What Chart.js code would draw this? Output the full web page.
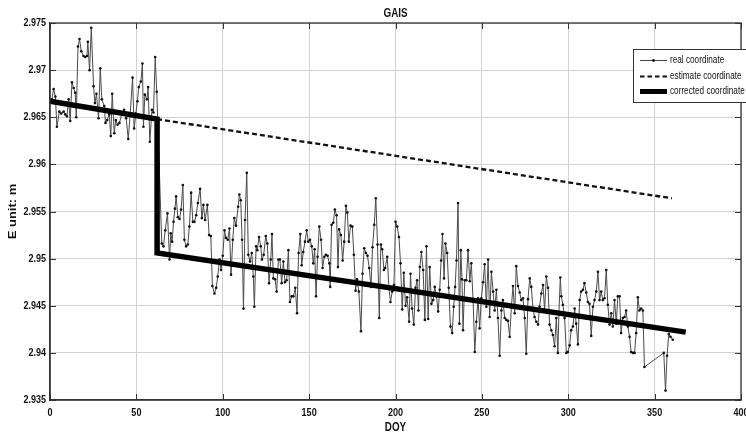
<!DOCTYPE html>
<html>
<head>
<meta charset="utf-8">
<script src="https://cdn.jsdelivr.net/npm/chart.js@4"></script>
<style>
  html, body { margin: 0; padding: 0; background: #fff; }
  #wrap { width: 746px; height: 435px; }
</style>
</head>
<body>
<div id="wrap"><canvas id="c" width="746" height="435"></canvas></div>
<script>
/* GAIS — E component, real / estimate / corrected coordinate */

const chartTitle = 'GAIS';
const xTitle = 'DOY';
const yTitle = 'E unit: m';
const legendLabels = ['real coordinate', 'estimate coordinate', 'corrected coordinate'];

const xTicks = [0, 50, 100, 150, 200, 250, 300, 350, 400];
const yTicks = [2.935, 2.94, 2.945, 2.95, 2.955, 2.96, 2.965, 2.97, 2.975];
const yTickLabels = ['2.935', '2.94', '2.945', '2.95', '2.955', '2.96', '2.965', '2.97', '2.975'];

// real coordinate, before the jump
const seg1Doy = [
  1.1, 2.1, 3.1, 4.0, 5.4, 6.5, 7.9, 8.8, 9.8, 10.8,
  11.7, 12.7, 13.7, 14.6, 15.2, 16.2, 17.1, 18.1, 19.4, 20.4,
  21.4, 21.9, 22.9, 23.9, 25.2, 26.0, 26.9, 28.1, 29.1, 30.0,
  31.4, 32.1, 33.1, 34.3, 35.2, 36.0, 37.2, 38.1, 39.1, 40.2,
  41.6, 42.9, 44.1, 45.3, 46.4, 47.8, 48.7, 49.7, 50.6, 51.4,
  52.6, 53.5, 54.1, 54.9, 56.1, 56.8, 57.8, 59.0, 59.9, 60.9,
  61.8
];
const seg1E = [
  2.9669, 2.9680, 2.9672, 2.9640, 2.9656, 2.9654, 2.9656, 2.9653, 2.9651, 2.9669,
  2.9646, 2.9687, 2.9681, 2.9676, 2.9650, 2.9725, 2.9733, 2.9720, 2.9715, 2.9714,
  2.9715, 2.9730, 2.9700, 2.9745, 2.9683, 2.9665, 2.9675, 2.9649, 2.9702, 2.9669,
  2.9662, 2.9644, 2.9647, 2.9653, 2.9630, 2.9675, 2.9633, 2.9647, 2.9642, 2.9644,
  2.9654, 2.9658, 2.9649, 2.9627, 2.9653, 2.9692, 2.9638, 2.9654, 2.9667, 2.9682,
  2.9688, 2.9707, 2.9640, 2.9674, 2.9669, 2.9682, 2.9624, 2.9658, 2.9655, 2.9714,
  2.9677
];

// real coordinate, after the jump (first part)
const seg2Doy = [
  64.7, 65.7, 66.7, 68.0, 69.2, 69.9, 70.7, 71.5, 72.3, 73.0,
  74.0, 75.0, 75.9, 76.9, 77.8, 78.8, 79.8, 80.7, 81.7, 82.7,
  83.6, 84.6, 85.6, 86.9, 87.9, 88.8, 89.8, 91.1, 92.1, 93.1,
  94.0, 95.2, 96.2, 97.1, 98.1, 99.0, 100.0, 101.0, 101.9, 102.9,
  103.9, 104.8, 105.8, 106.7, 107.7, 108.9, 109.6, 110.4, 111.2, 112.0,
  112.9, 113.9, 114.8, 115.8, 116.8, 117.7, 118.3, 119.3, 120.0, 121.0,
  122.0, 122.7, 123.7, 124.9, 125.8, 126.8, 127.8, 128.5, 129.3, 130.3,
  131.2, 132.2, 133.1, 134.1, 135.1, 136.0, 137.0, 138.0, 138.9, 139.9,
  140.9, 142.0, 143.0, 143.9, 144.9, 145.7, 146.6, 147.6, 148.6, 149.5,
  150.5, 151.5, 152.4, 153.2, 154.0, 154.9, 155.9, 156.9, 157.8, 158.8,
  159.7, 160.7, 161.7, 162.2, 163.0, 164.0, 164.9, 165.9, 166.7, 167.4,
  168.4, 169.4, 170.3, 171.3, 172.1, 173.0, 174.0, 175.0, 175.9, 176.9,
  177.7, 178.8, 180.0, 180.9, 181.9, 182.9, 183.8, 184.8, 185.8, 186.7,
  187.7, 188.6, 189.6, 190.6, 191.5, 192.3, 193.3, 194.0, 195.2, 196.2,
  197.1, 198.1, 199.1, 200.0, 201.0, 202.0, 202.9, 203.9, 204.8, 205.8,
  206.7, 207.9
];
const seg2E = [
  2.9516, 2.9513, 2.9530, 2.9548, 2.9499, 2.9527, 2.9518, 2.9539, 2.9553, 2.9566,
  2.9544, 2.9542, 2.9552, 2.9578, 2.9520, 2.9513, 2.9515, 2.9534, 2.9570, 2.9539,
  2.9539, 2.9546, 2.9559, 2.9574, 2.9543, 2.9557, 2.9541, 2.9557, 2.9525, 2.9524,
  2.9471, 2.9463, 2.9469, 2.9481, 2.9499, 2.9488, 2.9503, 2.9530, 2.9522, 2.9520,
  2.9532, 2.9483, 2.9520, 2.9543, 2.9535, 2.9555, 2.9568, 2.9562, 2.9520, 2.9447,
  2.9541, 2.9591, 2.9504, 2.9497, 2.9506, 2.9481, 2.9449, 2.9513, 2.9509, 2.9523,
  2.9513, 2.9499, 2.9504, 2.9524, 2.9516, 2.9474, 2.9499, 2.9526, 2.9479, 2.9478,
  2.9465, 2.9499, 2.9499, 2.9474, 2.9497, 2.9475, 2.9477, 2.9509, 2.9454, 2.9460,
  2.9460, 2.9469, 2.9442, 2.9506, 2.9526, 2.9493, 2.9507, 2.9518, 2.9530, 2.9518,
  2.9520, 2.9513, 2.9495, 2.9510, 2.9460, 2.9502, 2.9534, 2.9520, 2.9490, 2.9502,
  2.9504, 2.9503, 2.9495, 2.9470, 2.9536, 2.9538, 2.9552, 2.9546, 2.9491, 2.9531,
  2.9525, 2.9498, 2.9518, 2.9556, 2.9549, 2.9518, 2.9535, 2.9534, 2.9504, 2.9466,
  2.9478, 2.9465, 2.9423, 2.9484, 2.9511, 2.9506, 2.9503, 2.9490, 2.9470, 2.9512,
  2.9536, 2.9564, 2.9515, 2.9437, 2.9515, 2.9510, 2.9488, 2.9490, 2.9502, 2.9469,
  2.9454, 2.9465, 2.9472, 2.9539, 2.9534, 2.9523, 2.9495, 2.9446, 2.9485, 2.9450,
  2.9459, 2.9433
];

// real coordinate, second part (gap 344 -> 355 kept as a straight join)
const seg3Doy = [
  208.7, 209.6, 210.6, 211.6, 212.5, 213.3, 214.1, 215.0, 216.0, 217.0,
  217.9, 218.9, 219.8, 220.8, 221.8, 222.7, 223.7, 224.7, 225.6, 226.4,
  227.2, 228.1, 228.9, 229.9, 230.8, 231.8, 232.8, 233.7, 234.5, 235.3,
  236.2, 237.0, 237.8, 238.5, 239.1, 240.1, 241.0, 242.0, 243.0, 243.9,
  244.9, 245.9, 246.8, 247.8, 248.7, 249.7, 250.7, 251.6, 252.6, 253.6,
  254.5, 255.5, 256.5, 257.4, 258.4, 259.3, 260.3, 261.3, 262.2, 263.2,
  264.2, 265.1, 266.1, 267.1, 268.0, 269.0, 269.9, 270.9, 271.9, 272.8,
  273.8, 274.8, 275.7, 276.7, 277.7, 278.6, 279.6, 280.5, 281.5, 282.5,
  283.4, 284.4, 285.4, 286.3, 287.3, 288.3, 289.2, 290.2, 291.1, 292.1,
  293.1, 294.0, 294.6, 295.4, 296.0, 296.9, 297.9, 298.9, 299.8, 300.8,
  301.7, 302.7, 303.7, 304.6, 305.6, 306.6, 307.5, 308.5, 309.4, 310.4,
  311.4, 312.3, 313.3, 314.3, 315.2, 316.2, 317.2, 318.1, 319.1, 320.0,
  321.0, 322.0, 322.9, 323.9, 324.9, 325.8, 326.8, 327.8, 328.7, 329.7,
  330.6, 331.6, 332.6, 333.5, 334.5, 335.5, 336.4, 337.4, 338.4, 339.3,
  340.3, 341.2, 342.2, 343.2, 344.1, 355.3, 356.3, 357.2, 358.2, 359.2,
  360.5
];
const seg3E = [
  2.9484, 2.9447, 2.9430, 2.9469, 2.9477, 2.9445, 2.9491, 2.9507, 2.9488, 2.9435,
  2.9513, 2.9436, 2.9491, 2.9452, 2.9456, 2.9470, 2.9460, 2.9444, 2.9467, 2.9498,
  2.9526, 2.9479, 2.9516, 2.9506, 2.9469, 2.9428, 2.9421, 2.9449, 2.9470, 2.9498,
  2.9559, 2.9431, 2.9509, 2.9478, 2.9424, 2.9477, 2.9477, 2.9509, 2.9476, 2.9495,
  2.9456, 2.9401, 2.9433, 2.9458, 2.9426, 2.9458, 2.9475, 2.9494, 2.9449, 2.9499,
  2.9438, 2.9486, 2.9465, 2.9445, 2.9467, 2.9437, 2.9397, 2.9445, 2.9456, 2.9437,
  2.9435, 2.9434, 2.9417, 2.9449, 2.9471, 2.9442, 2.9492, 2.9471, 2.9464, 2.9456,
  2.9458, 2.9437, 2.9399, 2.9457, 2.9479, 2.9470, 2.9447, 2.9438, 2.9433, 2.9430,
  2.9449, 2.9463, 2.9472, 2.9445, 2.9481, 2.9469, 2.9430, 2.9424, 2.9419, 2.9407,
  2.9437, 2.9400, 2.9442, 2.9480, 2.9460, 2.9451, 2.9437, 2.9400, 2.9401, 2.9408,
  2.9424, 2.9428, 2.9447, 2.9431, 2.9409, 2.9456, 2.9465, 2.9467, 2.9474, 2.9464,
  2.9454, 2.9452, 2.9418, 2.9449, 2.9456, 2.9465, 2.9486, 2.9456, 2.9465, 2.9456,
  2.9458, 2.9488, 2.9451, 2.9430, 2.9442, 2.9428, 2.9456, 2.9431, 2.9460, 2.9460,
  2.9421, 2.9437, 2.9438, 2.9445, 2.9428, 2.9417, 2.9401, 2.9400, 2.9400, 2.9421,
  2.9459, 2.9445, 2.9447, 2.9445, 2.9385, 2.9400, 2.9360, 2.9397, 2.9420, 2.9417,
  2.9414
];

// estimate coordinate (dashed) and corrected coordinate (thick)
const estDoy = [62, 360];
const estE = [2.9648, 2.9564];
const corrDoy = [0, 62, 62, 368];
const corrE = [2.9667, 2.9648, 2.9506, 2.9422];

const SANS = '"Liberation Sans", Arial, sans-serif';
const SQUEEZE = 0.82; // the original figure is horizontally squeezed

const toPoints = (xs, ys) => xs.map((x, i) => ({ x: x, y: ys[i] }));
const realPoints = toPoints(seg1Doy.concat(seg2Doy, seg3Doy), seg1E.concat(seg2E, seg3E));

function narrowText(ctx, text, x, y, align, font) {
  ctx.save();
  ctx.translate(x, y);
  ctx.scale(SQUEEZE, 1);
  ctx.font = font;
  ctx.textAlign = align;
  ctx.textBaseline = 'middle';
  ctx.fillText(text, 0, 0);
  ctx.restore();
}

// frame, inner ticks, tick labels, titles and the boxed legend
const decorations = {
  id: 'decorations',
  beforeDraw(chart) {
    const ctx = chart.ctx;
    ctx.save();
    ctx.fillStyle = '#fff';
    ctx.fillRect(0, 0, chart.width, chart.height);
    ctx.restore();
  },
  afterDraw(chart) {
    const ctx = chart.ctx;
    const a = chart.chartArea;
    const xs = chart.scales.x, ys = chart.scales.y;
    ctx.save();

    // box
    ctx.strokeStyle = '#333';
    ctx.lineWidth = 1.3;
    ctx.strokeRect(a.left, a.top, a.right - a.left, a.bottom - a.top);

    // inward ticks
    ctx.lineWidth = 1;
    ctx.beginPath();
    xTicks.forEach((v) => {
      const px = Math.round(xs.getPixelForValue(v)) + 0.5;
      ctx.moveTo(px, a.bottom); ctx.lineTo(px, a.bottom - 6);
      ctx.moveTo(px, a.top); ctx.lineTo(px, a.top + 6);
    });
    yTicks.forEach((v) => {
      const py = Math.round(ys.getPixelForValue(v)) + 0.5;
      ctx.moveTo(a.left, py); ctx.lineTo(a.left + 6, py);
      ctx.moveTo(a.right, py); ctx.lineTo(a.right - 6, py);
    });
    ctx.stroke();

    // tick labels
    ctx.fillStyle = '#111';
    const tickFont = 'bold 11px ' + SANS;
    xTicks.forEach((v) => {
      narrowText(ctx, String(v), xs.getPixelForValue(v), a.bottom + 13, 'center', tickFont);
    });
    yTicks.forEach((v, i) => {
      narrowText(ctx, yTickLabels[i], a.left - 4, ys.getPixelForValue(v), 'right', tickFont);
    });

    // titles
    const cx = (a.left + a.right) / 2;
    narrowText(ctx, chartTitle, cx, 14, 'center', 'bold 12px ' + SANS);
    narrowText(ctx, xTitle, cx, 428, 'center', 'bold 12px ' + SANS);
    ctx.save();
    ctx.translate(13.5, (a.top + a.bottom) / 2);
    ctx.rotate(-Math.PI / 2);
    ctx.scale(1, SQUEEZE);
    ctx.font = 'bold 13px ' + SANS;
    ctx.textAlign = 'center';
    ctx.textBaseline = 'middle';
    ctx.fillText(yTitle, 0, 0);
    ctx.restore();

    // legend
    const lx = 633.5, ly = 49.5, lw = 130, lh = 53;
    ctx.fillStyle = '#fff';
    ctx.fillRect(lx, ly, lw, lh);
    ctx.strokeStyle = '#333';
    ctx.lineWidth = 1;
    ctx.strokeRect(lx, ly, lw, lh);
    const rows = [60.5, 76.5, 91.5];
    const x0 = 640, x1 = 667;
    // real
    ctx.strokeStyle = '#444';
    ctx.lineWidth = 1;
    ctx.beginPath(); ctx.moveTo(x0, rows[0]); ctx.lineTo(x1, rows[0]); ctx.stroke();
    ctx.fillStyle = '#111';
    ctx.beginPath(); ctx.arc((x0 + x1) / 2, rows[0], 1.4, 0, Math.PI * 2); ctx.fill();
    // estimate
    ctx.strokeStyle = '#111';
    ctx.lineWidth = 2.2;
    ctx.setLineDash([4.5, 3]);
    ctx.beginPath(); ctx.moveTo(x0, rows[1]); ctx.lineTo(x1, rows[1]); ctx.stroke();
    ctx.setLineDash([]);
    // corrected
    ctx.strokeStyle = '#000';
    ctx.lineWidth = 5;
    ctx.beginPath(); ctx.moveTo(x0, rows[2]); ctx.lineTo(x1, rows[2]); ctx.stroke();

    ctx.fillStyle = '#111';
    legendLabels.forEach((t, i) => narrowText(ctx, t, 670, rows[i], 'left', '10px ' + SANS));
    ctx.restore();
  }
};

new Chart(document.getElementById('c'), {
  type: 'line',
  data: {
    datasets: [
      {
        label: legendLabels[2],
        data: toPoints(corrDoy, corrE),
        borderColor: '#000',
        borderWidth: 5.5,
        pointRadius: 0,
        borderCapStyle: 'butt',
        borderJoinStyle: 'miter',
        order: 0
      },
      {
        label: legendLabels[1],
        data: toPoints(estDoy, estE),
        borderColor: '#111',
        borderWidth: 2.3,
        borderDash: [5, 3],
        pointRadius: 0,
        order: 1
      },
      {
        label: legendLabels[0],
        data: realPoints,
        borderColor: '#4a4a4a',
        borderWidth: 1,
        pointRadius: 1.3,
        pointBackgroundColor: '#111',
        pointBorderWidth: 0,
        order: 2
      }
    ]
  },
  options: {
    responsive: false,
    animation: false,
    devicePixelRatio: 1,
    layout: { padding: { top: 23, right: 5, left: 0, bottom: 0 } },
    plugins: {
      legend: { display: false },
      title: { display: false },
      tooltip: { enabled: false }
    },
    scales: {
      x: {
        type: 'linear',
        min: 0,
        max: 400,
        afterBuildTicks: (s) => { s.ticks = xTicks.map((v) => ({ value: v })); },
        afterFit: (s) => { s.height = 35; s.paddingLeft = 0; s.paddingRight = 0; },
        grid: { color: '#d2d2d2', lineWidth: 1, drawTicks: false },
        border: { color: '#333', width: 1.3 },
        ticks: { display: false }
      },
      y: {
        type: 'linear',
        min: 2.935,
        max: 2.975,
        afterBuildTicks: (s) => { s.ticks = yTicks.map((v) => ({ value: v })); },
        afterFit: (s) => { s.width = 50; s.paddingTop = 0; s.paddingBottom = 0; },
        grid: { color: '#d2d2d2', lineWidth: 1, drawTicks: false },
        border: { color: '#333', width: 1.3 },
        ticks: { display: false }
      }
    }
  },
  plugins: [decorations]
});
</script>
</body>
</html>
